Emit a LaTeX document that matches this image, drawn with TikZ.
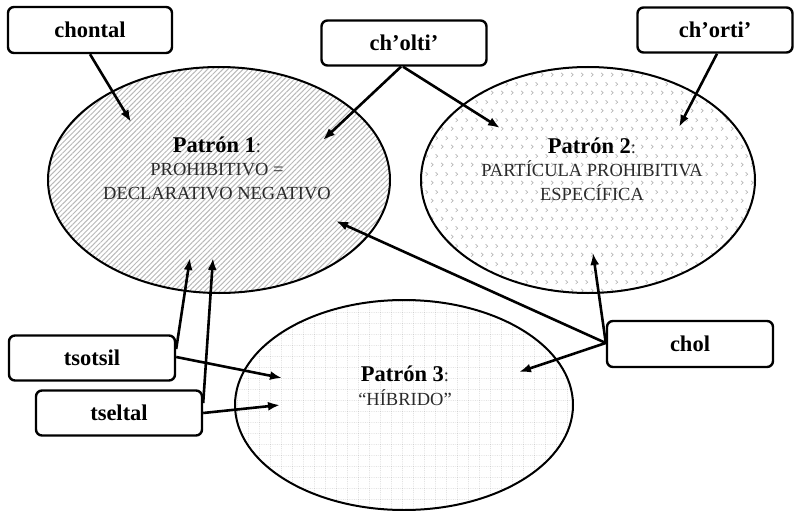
\documentclass[tikz,border=0pt]{standalone}
\usepackage{fontspec}
\setmainfont{Liberation Serif}
\usetikzlibrary{arrows.meta,shapes.geometric,patterns.meta}
\tikzdeclarepattern{
  name=chevs,
  type=uncolored,
  bounding box={(0pt,0pt) and (10pt,18pt)},
  tile size={(10pt,18pt)},
  code={
    \draw[line width=0.7pt] (1.2pt,6.5pt) -- (3.4pt,4.5pt) -- (1.2pt,2.5pt);
    \draw[line width=0.7pt] (6.2pt,15.5pt) -- (8.4pt,13.5pt) -- (6.2pt,11.5pt);
  }
}
\tikzdeclarepattern{
  name=dgrid,
  type=uncolored,
  bounding box={(0pt,0pt) and (10.8pt,10.8pt)},
  tile size={(10.8pt,10.8pt)},
  code={
    \draw[line width=1pt,dash pattern=on 0.9pt off 0.9pt] (0pt,0pt) -- (10.8pt,0pt);
    \draw[line width=1pt,dash pattern=on 0.9pt off 0.9pt] (0pt,0pt) -- (0pt,10.8pt);
  }
}
\definecolor{txtgray}{HTML}{2A2A2A}
\tikzset{
  lbox/.style={draw, line width=2.4pt, rounded corners=6pt, rectangle, inner sep=0pt,
    font=\fontsize{22.5}{26}\selectfont\bfseries},
  pat/.style={draw, line width=2pt, ellipse, inner sep=0pt},
  ptext/.style={align=center, text=txtgray, font=\fontsize{18.5}{23.5}\selectfont},
  conn/.style={line width=2.6pt, -{Latex[length=12pt,width=9pt]}}
}
\newcommand{\pat}[1]{{\color{black}\fontsize{22.5}{26}\selectfont\bfseries #1}}
\begin{document}
\begin{tikzpicture}[x=1pt,y=-1pt]
\useasboundingbox (0,0) rectangle (795,511);
% ellipses
\node[pat, minimum width=342pt, minimum height=226pt,
      pattern={Lines[angle=45,distance=3.6pt,line width=1pt]}, pattern color=gray!55] (e1) at (219,180) {};
\node[pat, minimum width=334pt, minimum height=226pt,
      pattern=chevs, pattern color=gray!60] (e2) at (588,180) {};
\node[pat, minimum width=338pt, minimum height=210pt,
      pattern=dgrid, pattern color=gray!65] (e3) at (404,405) {};
% pattern texts
\node[ptext] (t1) at (217,168) {\pat{Patrón 1}:\\PROHIBITIVO =\\DECLARATIVO NEGATIVO};
\node[ptext] (t2) at (592,169) {\pat{Patrón 2}:\\PARTÍCULA PROHIBITIVA\\ESPECÍFICA};
\node[ptext] (t3) at (405,386) {\pat{Patrón 3}:\\“HÍBRIDO”};
% label boxes
\node[lbox, minimum width=164pt, minimum height=46pt] (chontal) at (90,30) {chontal};
\node[lbox, minimum width=165pt, minimum height=45pt] (cholti) at (404,43) {ch’olti’};
\node[lbox, minimum width=155pt, minimum height=45pt] (chorti) at (715,30) {ch’orti’};
\node[lbox, minimum width=166pt, minimum height=45pt] (tsotsil) at (92,358) {tsotsil};
\node[lbox, minimum width=166pt, minimum height=45pt] (tseltal) at (119,413) {tseltal};
\node[lbox, minimum width=166pt, minimum height=46pt] (chol) at (690,344) {chol};
% arrow targets
\coordinate (a1) at (131,122);
\coordinate (a2) at (323,140);
\coordinate (a3) at (500,128);
\coordinate (a4) at (679,127);
\coordinate (a5) at (336,221);
\coordinate (a6) at (593,253);
\coordinate (a7) at (519,372);
\coordinate (a8) at (190,258);
\coordinate (a9) at (213,258);
\coordinate (a10) at (282,378);
\coordinate (a11) at (280,405);
% connectors
\draw[conn] (chontal.south) -- (a1);
\draw[conn] ([xshift=-3pt]cholti.south) -- (a2);
\draw[conn] ([xshift=-1pt]cholti.south) -- (a3);
\draw[conn] ([xshift=2pt]chorti.south) -- (a4);
\draw[conn] ([yshift=1pt]chol.west) -- (a5);
\draw[conn] ([yshift=1pt]chol.west) -- (a6);
\draw[conn] ([yshift=1pt]chol.west) -- (a7);
\draw[conn] ([yshift=9pt]tsotsil.east) -- (a8);
\draw[conn] ([yshift=1pt]tsotsil.east) -- (a10);
\draw[conn] ([yshift=10pt]tseltal.east) -- (a9);
\draw[conn] ([yshift=0pt]tseltal.east) -- (a11);
\end{tikzpicture}
\end{document}
